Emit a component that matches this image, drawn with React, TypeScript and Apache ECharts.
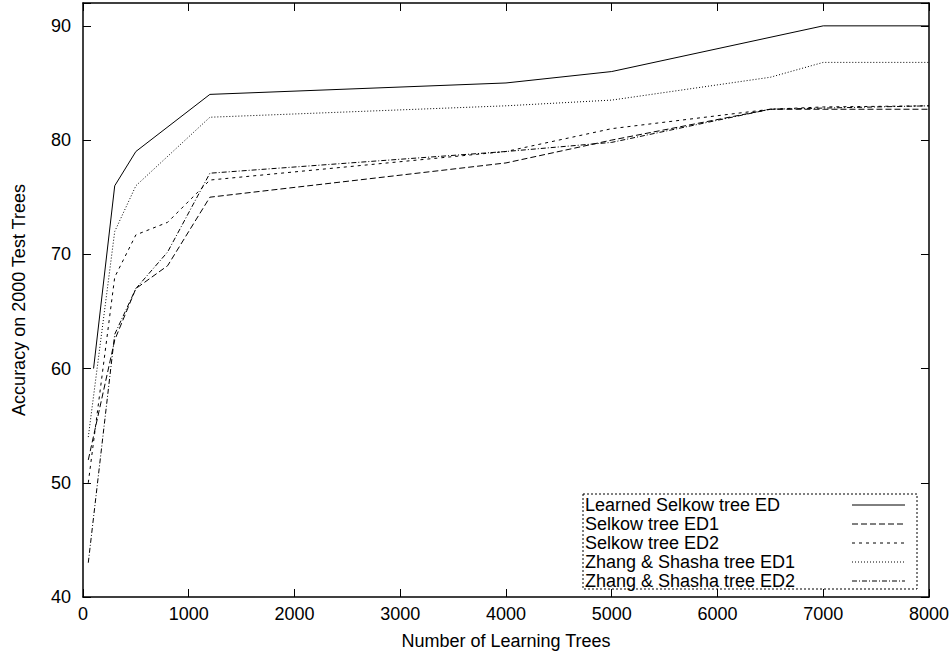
import React, { useEffect, useRef } from "react";
import * as echarts from "echarts";

const seriesNames = [
  "Learned Selkow tree ED",
  "Selkow tree ED1",
  "Selkow tree ED2",
  "Zhang & Shasha tree ED1",
  "Zhang & Shasha tree ED2",
];

const xLearned = [100, 300, 500, 1200, 4000, 5000, 7000, 8000];
const yLearned = [60, 76, 79, 84, 85, 86, 90, 90];

const xSelkow1 = [50, 300, 500, 800, 1200, 4000, 5000, 6500, 7000, 8000];
const ySelkow1 = [52, 62.5, 67, 69, 75, 78, 80, 82.7, 82.7, 82.7];

const xSelkow2 = [50, 300, 500, 800, 1200, 4000, 5000, 6500, 7000, 8000];
const ySelkow2 = [50, 68, 71.7, 72.8, 76.5, 79, 81, 82.7, 82.9, 83];

const xZS1 = [50, 300, 500, 1200, 4000, 5000, 6500, 7000, 8000];
const yZS1 = [54, 72, 76, 82, 83, 83.5, 85.5, 86.8, 86.8];

const xZS2 = [50, 300, 500, 800, 1200, 4000, 5000, 6500, 7000, 8000];
const yZS2 = [43, 63, 67, 70.2, 77.1, 79, 79.8, 82.7, 82.8, 83];

const xTicks = { min: 0, max: 8000, interval: 1000 };
const yTicks = { min: 40, max: 92, interval: 10 };

const FONT = "'Liberation Sans', Arial, Helvetica, sans-serif";
const FS = 18;

const dashes: (number[] | "solid")[] = ["solid", [6, 3], [3, 4], [1, 2], [5, 2, 1, 2]];

function zip(xs: number[], ys: number[]) {
  return xs.map((x, i) => [x, ys[i]]);
}

export default function App() {
  const ref = useRef<HTMLDivElement>(null);
  useEffect(() => {
    if (!ref.current) return;
    const chart = echarts.init(ref.current, null, { renderer: "svg" });
    const datasets = [
      zip(xLearned, yLearned),
      zip(xSelkow1, ySelkow1),
      zip(xSelkow2, ySelkow2),
      zip(xZS1, yZS1),
      zip(xZS2, yZS2),
    ];
    const axisLine = { show: true, onZero: false, lineStyle: { color: "#000", width: 1.5 } };
    const axisTick = { show: true, inside: true, length: 8, lineStyle: { color: "#000", width: 1 } };
    const labelStyle = { color: "#000", fontSize: FS, fontFamily: FONT };

    const legendLeft = 583;
    const legendTop = 494;
    const legendRight = 917;
    const legendBottom = 589;
    const rowH = 19;
    const legendEls: any[] = [
      {
        type: "rect",
        shape: { x: legendLeft, y: legendTop, width: legendRight - legendLeft, height: legendBottom - legendTop },
        style: { fill: "#fff", stroke: "#000", lineWidth: 1, lineDash: [2, 2] },
        z: 10,
      },
    ];
    seriesNames.forEach((name, i) => {
      const cy = legendTop + 11 + i * rowH;
      legendEls.push({
        type: "text",
        x: legendLeft + 2,
        y: cy,
        z: 11,
        style: { text: name, fill: "#000", fontSize: 18, fontFamily: FONT, verticalAlign: "middle", align: "left" },
      });
      legendEls.push({
        type: "line",
        z: 11,
        shape: { x1: 852, y1: cy, x2: 905, y2: cy },
        style: {
          stroke: "#000",
          lineWidth: 1,
          lineDash: dashes[i] === "solid" ? null : (dashes[i] as number[]),
        },
      });
    });

    const option: any = {
      animation: false,
      backgroundColor: "#fff",
      grid: { left: 83, right: 22, top: 3, bottom: 61, containLabel: false },
      xAxis: [
        {
          type: "value",
          ...xTicks,
          position: "bottom",
          axisLine,
          axisTick,
          axisLabel: { ...labelStyle, margin: 8, formatter: (v: number) => String(v) },
          splitLine: { show: false },
          name: "Number of Learning Trees",
          nameLocation: "middle",
          nameGap: 35,
          nameTextStyle: { ...labelStyle },
        },
        {
          type: "value",
          ...xTicks,
          position: "top",
          axisLine,
          axisTick,
          axisLabel: { show: false },
          splitLine: { show: false },
        },
      ],
      yAxis: [
        {
          type: "value",
          ...yTicks,
          position: "left",
          axisLine,
          axisTick,
          axisLabel: {
            ...labelStyle,
            margin: 12,
            formatter: (v: number) => (v % 10 === 0 ? String(v) : ""),
          },
          splitLine: { show: false },
          name: "Accuracy on 2000 Test Trees",
          nameLocation: "middle",
          nameGap: 55,
          nameTextStyle: { ...labelStyle },
        },
        {
          type: "value",
          ...yTicks,
          position: "right",
          axisLine,
          axisTick,
          axisLabel: { show: false },
          splitLine: { show: false },
        },
      ],
      series: datasets.map((d, i) => ({
        name: seriesNames[i],
        type: "line",
        data: d,
        xAxisIndex: 0,
        yAxisIndex: 0,
        symbol: "none",
        lineStyle: { color: "#000", width: 1, type: dashes[i] },
        z: 2,
      })),
      graphic: legendEls,
    };
    chart.setOption(option);
    return () => chart.dispose();
  }, []);
  return (
    <div
      ref={ref}
      style={{ position: "fixed", left: 0, top: 0, width: 952, height: 658 }}
    />
  );
}
